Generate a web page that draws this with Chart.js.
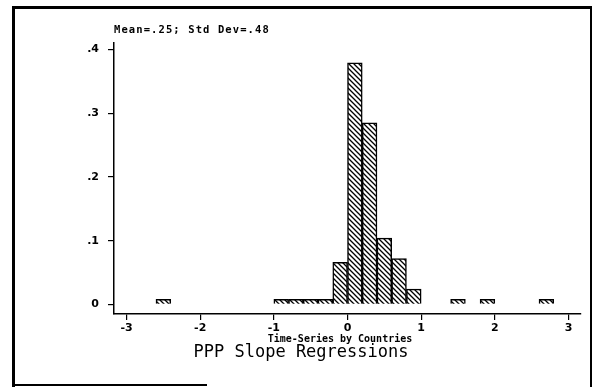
<!DOCTYPE html>
<html>
<head>
<meta charset="utf-8">
<script src="https://cdn.jsdelivr.net/npm/chart.js@4/dist/chart.umd.min.js"></script>
<style>
  body { margin: 0; background: #fff; }
  #wrap { position: relative; width: 592px; height: 387px; }
  #frame { position: absolute; left: 12px; top: 6px; width: 575px; height: 390px;
           border-left: 3px solid #000; border-top: 3px solid #000; border-right: 2px solid #000; }
  #bottomline { position: absolute; left: 13px; top: 384px; width: 194px; height: 2px; background: #000; }
  canvas { position: absolute; left: 0; top: 0; }
</style>
</head>
<body>
<div id="wrap">
  <canvas id="histo" width="592" height="387"></canvas>
  <div id="frame"></div>
  <div id="bottomline"></div>
</div>
<script>
// bins of width .2, lower edge of each bin
var binStart = [-2.6, -1.0, -0.8, -0.6, -0.4, -0.2, 0, 0.2, 0.4, 0.6, 0.8, 1.4, 1.8, 2.6];
var fraction = [0.008, 0.008, 0.008, 0.008, 0.008, 0.066, 0.379, 0.285, 0.104, 0.072, 0.024, 0.008, 0.008, 0.008];
var binWidth = 0.2;

var xTicks = [-3, -2, -1, 0, 1, 2, 3];
var yTicks = [0, 0.1, 0.2, 0.3, 0.4];
var yTickLabels = ["0", ".1", ".2", ".3", ".4"];

var topNote = "Mean=.25; Std Dev=.48";
var xTitle = "Time-Series by Countries";
var mainTitle = "PPP Slope Regressions";

// hatch pattern  \\\\
function hatch() {
  var c = document.createElement("canvas");
  c.width = 5; c.height = 5;
  var g = c.getContext("2d");
  g.fillStyle = "#fff";
  g.fillRect(0, 0, 5, 5);
  g.strokeStyle = "#000";
  g.lineWidth = 1.3;
  g.beginPath();
  g.moveTo(-1, -1); g.lineTo(6, 6);
  g.moveTo(-1, 4); g.lineTo(1, 6);
  g.moveTo(4, -1); g.lineTo(6, 1);
  g.stroke();
  return document.getElementById("histo").getContext("2d").createPattern(c, "repeat");
}

var punti = binStart.map(function (s, i) {
  return { x: s + binWidth / 2, y: fraction[i] };
});

var textos = {
  id: "textos",
  afterDraw: function (chart) {
    var ctx = chart.ctx;
    ctx.save();
    ctx.fillStyle = "#000";
    ctx.textBaseline = "middle";
    // nota de arriba
    ctx.font = "bold 10.5px 'DejaVu Sans Mono'";
    ctx.letterSpacing = "1.1px";
    ctx.textAlign = "left";
    ctx.fillText(topNote, chart.chartArea.left, 30);
    ctx.letterSpacing = "0px";
    // titulo eje x
    ctx.font = "bold 10px 'DejaVu Sans Mono'";
    ctx.textAlign = "center";
    ctx.fillText(xTitle, 340, 339);
    // titulo principal
    ctx.font = "17px 'DejaVu Sans Mono'";
    ctx.fillText(mainTitle, 301, 353);
    ctx.restore();
  }
};

var histo = new Chart(document.getElementById("histo").getContext("2d"), {
  type: "bar",
  data: {
    datasets: [{
      data: punti,
      backgroundColor: hatch(),
      borderColor: "#000",
      borderWidth: 1.5,
      barPercentage: 1,
      categoryPercentage: 1
    }]
  },
  options: {
    responsive: false,
    animation: false,
    layout: { padding: { left: 0, top: 43, right: 11, bottom: 0 } },
    plugins: { legend: { display: false }, tooltip: { enabled: false } },
    scales: {
      x: {
        type: "linear",
        min: -3.17,
        max: 3.17,
        offset: false,
        afterFit: function (s) { s.height = 73; },
        afterBuildTicks: function (s) { s.ticks = xTicks.map(function (v) { return { value: v }; }); },
        grid: { offset: false, drawOnChartArea: false, drawTicks: true, tickLength: 6, color: "#000", lineWidth: 1.2 },
        border: { display: true, color: "#000", width: 1.5 },
        ticks: {
          color: "#000",
          padding: 2,
          maxRotation: 0,
          font: { family: "DejaVu Sans", size: 11, weight: "bold" },
          callback: function (v) { return String(v); }
        }
      },
      y: {
        min: -0.015,
        max: 0.41,
        afterFit: function (s) { s.width = 114; },
        afterBuildTicks: function (s) { s.ticks = yTicks.map(function (v) { return { value: v }; }); },
        grid: { drawOnChartArea: false, drawTicks: true, tickLength: 6, color: "#000", lineWidth: 1.2 },
        border: { display: true, color: "#000", width: 1.5 },
        ticks: {
          color: "#000",
          padding: 9,
          font: { family: "DejaVu Sans", size: 11, weight: "bold" },
          callback: function (v) {
            var i = yTicks.indexOf(v);
            return i >= 0 ? yTickLabels[i] : "";
          }
        }
      }
    }
  },
  plugins: [textos]
});
</script>
</body>
</html>
